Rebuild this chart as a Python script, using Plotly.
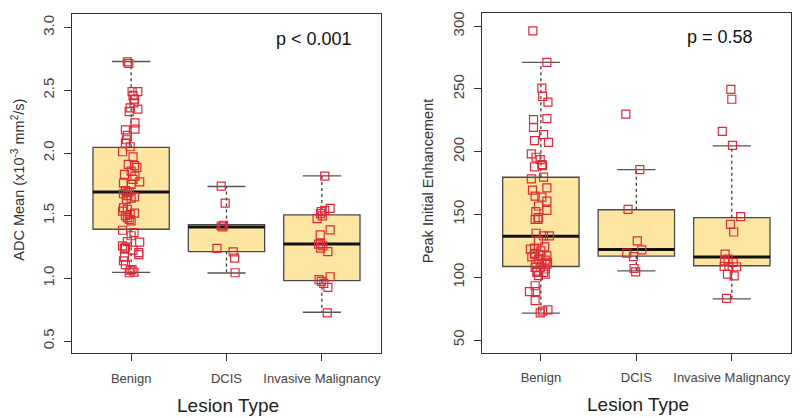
import plotly.graph_objects as go

# ---------------- data ----------------
categories = ["Benign", "DCIS", "Invasive Malignancy"]

# Left panel: ADC mean (x10^-3 mm^2/s)
adc_q1 = [1.392, 1.214, 0.982]
adc_median = [1.69, 1.41, 1.275]
adc_q3 = [2.045, 1.429, 1.506]
adc_lower = [1.048, 1.043, 0.73]
adc_upper = [2.73, 1.733, 1.817]

adc_benign = [2.727, 2.714, 2.49, 2.49, 2.458, 2.43, 2.40, 2.36, 2.33, 2.35, 2.24, 2.19,
              2.185, 2.14, 2.106, 2.08, 2.05, 2.01, 1.97, 1.91, 1.90, 1.886, 1.855, 1.83,
              1.815, 1.79, 1.77, 1.76, 1.75, 1.70, 1.69, 1.683, 1.675, 1.66, 1.65, 1.64,
              1.63, 1.563, 1.55, 1.537, 1.52, 1.51, 1.50, 1.484, 1.47, 1.458, 1.384, 1.365,
              1.34, 1.294, 1.29, 1.26, 1.25, 1.24, 1.225, 1.206, 1.19, 1.17, 1.14, 1.11,
              1.07, 1.066, 1.05, 1.045]
adc_benign_jit = [-0.04, -0.025, 0.01, 0.07, 0.02, 0.035, 0.03, -0.01, -0.02, 0.07, 0.04, 0.04,
                  -0.06, -0.04, -0.05, -0.06, -0.01, -0.09, 0.02, -0.03, 0.035, 0.06, 0.0, -0.07,
                  0.04, 0.02, 0.09, -0.08, 0.0, -0.06, -0.02, -0.04, -0.08, -0.035, 0.035, 0.0,
                  -0.05, -0.08, -0.04, -0.09, 0.035, -0.01, -0.06, -0.04, -0.02, 0.0, -0.09, 0.03,
                  0.0, -0.04, 0.09, -0.09, -0.06, -0.07, 0.02, 0.08, 0.08, -0.07, -0.08, -0.06,
                  0.01, -0.01, 0.03, -0.02]
adc_dcis = [1.736, 1.60, 1.418, 1.41, 1.424, 1.24, 1.212, 1.162, 1.045]
adc_dcis_jit = [-0.055, -0.014, -0.055, -0.04, -0.03, -0.10, 0.07, 0.085, 0.09]
adc_inv = [1.815, 1.559, 1.543, 1.532, 1.516, 1.476, 1.498, 1.387, 1.347, 1.278, 1.273,
           1.26, 1.241, 1.214, 1.013, 0.99, 0.976, 0.96, 0.929, 0.725]
adc_inv_jit = [0.03, 0.087, 0.03, -0.006, -0.014, -0.05, 0.004, 0.087, -0.017, -0.014, -0.035,
               0.01, -0.014, 0.063, 0.087, -0.03, -0.006, 0.02, 0.063, 0.056]

# Right panel: Peak initial enhancement
pie_q1 = [108.6, 116.9, 109.2]
pie_median = [132.7, 122.1, 116.1]
pie_q3 = [179.7, 153.8, 147.5]
pie_lower = [71.4, 105.2, 82.8]
pie_upper = [271.1, 185.8, 204.6]

pie_benign = [296.3, 271.2, 250.6, 244.0, 239.5, 225.5, 219.4, 226.3, 213.6, 208.8, 207.5,
              198.3, 195.6, 193.8, 189.8, 188.0, 189.0, 178.4, 179.8, 169.4, 164.6, 171.3,
              163.9, 156.8, 160.7, 152.3, 153.3, 147.5, 146.2, 146.2, 135.1, 133.0, 133.0,
              129.0, 124.3, 123.2, 122.4, 121.0, 119.0, 118.4, 117.7, 117.1, 116.3, 114.5,
              113.7, 112.0, 110.5, 110.5, 110.5, 107.9, 107.9, 106.6, 105.0, 104.0, 104.0,
              102.6, 101.3, 93.3, 88.6, 88.6, 81.4, 73.0, 71.7, 74.0]
pie_benign_jit = [-0.084, 0.063, 0.01, 0.018, 0.074, -0.077, -0.077, 0.063, 0.028, -0.067, 0.08,
                  -0.1, -0.05, -0.007, 0.01, -0.067, 0.018, -0.1, 0.028, -0.088, -0.06, 0.063,
                  0.01, -0.025, 0.063, -0.053, 0.063, -0.025, -0.06, -0.03, -0.05, 0.028, 0.09,
                  -0.025, 0.04, -0.067, -0.11, 0.0, -0.06, -0.067, 0.0, 0.063, -0.095, -0.025,
                  0.046, 0.07, -0.053, 0.01, 0.063, -0.06, -0.007, 0.046, -0.04, -0.042, 0.028,
                  0.046, -0.025, -0.06, -0.12, -0.053, -0.06, 0.018, -0.007, 0.074]
pie_dcis = [229.9, 185.8, 154.1, 129.0, 121.8, 119.2, 116.5, 107.0, 104.4]
pie_dcis_jit = [-0.11, 0.036, -0.087, 0.01, 0.057, -0.10, -0.03, -0.024, -0.007]
pie_inv = [249.7, 241.8, 216.2, 205.1, 148.3, 142.2, 136.1, 118.4, 114.5, 113.1, 111.8,
           108.6, 108.6, 108.4, 102.6, 101.2, 83.2]
pie_inv_jit = [-0.01, 0.0, -0.1, 0.007, 0.092, -0.014, 0.02, -0.07, -0.04, -0.075, 0.014,
               -0.08, -0.03, 0.05, -0.045, 0.025, -0.056]

# ---------------- styling ----------------
FILL = "#FCE6A2"
BOX_LINE = "#4a4a4a"
PT = "#DD2A38"
BOX_W = 0.8
CAP_W = 0.4
FONT = "Liberation Sans, Arial, sans-serif"

fig = go.Figure()


def add_panel(fig, xa, ya, q1, med, q3, lo, hi, groups):
    for i in range(len(categories)):
        fig.add_trace(go.Box(
            x=[i], q1=[q1[i]], median=[med[i]], q3=[q3[i]],
            lowerfence=[q1[i]], upperfence=[q3[i]],
            width=BOX_W, whiskerwidth=0, fillcolor=FILL,
            line=dict(color=BOX_LINE, width=1.3), boxpoints=False,
            xaxis=xa, yaxis=ya, showlegend=False, hoverinfo="skip"))
        # dashed whiskers
        fig.add_trace(go.Scatter(
            x=[i, i, None, i, i], y=[q3[i], hi[i], None, q1[i], lo[i]],
            mode="lines", line=dict(color="#3a3a3a", width=1.3, dash="3px,3px"),
            xaxis=xa, yaxis=ya, showlegend=False, hoverinfo="skip"))
        # caps
        fig.add_trace(go.Scatter(
            x=[i - CAP_W / 2, i + CAP_W / 2, None, i - CAP_W / 2, i + CAP_W / 2],
            y=[hi[i], hi[i], None, lo[i], lo[i]],
            mode="lines", line=dict(color="#555555", width=1.3),
            xaxis=xa, yaxis=ya, showlegend=False, hoverinfo="skip"))
        # thick median
        fig.add_trace(go.Scatter(
            x=[i - BOX_W / 2, i + BOX_W / 2], y=[med[i], med[i]],
            mode="lines", line=dict(color="#111111", width=3),
            xaxis=xa, yaxis=ya, showlegend=False, hoverinfo="skip"))
    for i, (vals, jit) in enumerate(groups):
        fig.add_trace(go.Scatter(
            x=[i + j for j in jit], y=vals, mode="markers",
            marker=dict(symbol="square-open", size=8, color=PT, line=dict(width=1.2, color=PT)),
            xaxis=xa, yaxis=ya, showlegend=False, hoverinfo="skip"))


add_panel(fig, "x", "y", adc_q1, adc_median, adc_q3, adc_lower, adc_upper,
          [(adc_benign, adc_benign_jit), (adc_dcis, adc_dcis_jit), (adc_inv, adc_inv_jit)])
add_panel(fig, "x2", "y2", pie_q1, pie_median, pie_q3, pie_lower, pie_upper,
          [(pie_benign, pie_benign_jit), (pie_dcis, pie_dcis_jit), (pie_inv, pie_inv_jit)])

xcommon = dict(range=[-0.62, 2.62], tickvals=[0, 1, 2], ticktext=categories,
               showgrid=False, zeroline=False, showline=True, mirror=True,
               linecolor="#333333", linewidth=1.2, ticks="outside", ticklen=7,
               tickcolor="#333333", tickwidth=1.2, ticklabelstandoff=6,
               tickfont=dict(family=FONT, size=13, color="#444444"))
ycommon = dict(showgrid=False, zeroline=False, showline=True, mirror=True,
               linecolor="#333333", linewidth=1.2, ticks="outside", ticklen=7,
               tickcolor="#333333", tickwidth=1.2, tickangle=-90, ticklabelstandoff=4,
               tickfont=dict(family=FONT, size=15, color="#444444"))

fig.update_layout(
    width=800, height=419,
    margin=dict(l=0, r=0, t=0, b=0),
    paper_bgcolor="white", plot_bgcolor="white",
    xaxis=dict(domain=[0.08, 0.46625], anchor="y", **xcommon),
    yaxis=dict(domain=[0.1766, 0.99045], anchor="x", range=[0.402, 3.109],
               tickvals=[0.5, 1.0, 1.5, 2.0, 2.5, 3.0],
               ticktext=["0.5", "1.0", "1.5", "2.0", "2.5", "3.0"], **ycommon),
    xaxis2=dict(domain=[0.5921, 0.97875], anchor="y2", **xcommon),
    yaxis2=dict(domain=[0.1783, 0.99284], anchor="x2", range=[40.0, 310.5],
                tickvals=[50, 100, 150, 200, 250, 300], **ycommon),
    annotations=[
        dict(text="p < 0.001", x=1.92, y=2.91, xref="x", yref="y", showarrow=False,
             xanchor="center", yanchor="middle",
             font=dict(family=FONT, size=18, color="#111111")),
        dict(text="p = 0.58", x=1.88, y=291.5, xref="x2", yref="y2", showarrow=False,
             xanchor="center", yanchor="middle",
             font=dict(family=FONT, size=18, color="#111111")),
        dict(text="ADC Mean (x10<sup>-3</sup> mm<sup>2</sup>/s)", x=0.0125, y=0.5931,
             xref="paper", yref="paper", textangle=-90, showarrow=False,
             xanchor="center", yanchor="middle",
             font=dict(family=FONT, size=14.5, color="#333333")),
        dict(text="Peak Initial Enhancement", x=0.5244, y=0.5883,
             xref="paper", yref="paper", textangle=-90, showarrow=False,
             xanchor="center", yanchor="middle",
             font=dict(family=FONT, size=14.5, color="#333333")),
        dict(text="Lesion Type", x=0.275, y=0.0525, xref="paper", yref="paper",
             xanchor="center", yanchor="middle",
             showarrow=False, font=dict(family=FONT, size=19, color="#222222")),
        dict(text="Lesion Type", x=0.787, y=0.0549, xref="paper", yref="paper",
             xanchor="center", yanchor="middle",
             showarrow=False, font=dict(family=FONT, size=19, color="#222222")),
    ],
)

fig.write_html("out.html")
